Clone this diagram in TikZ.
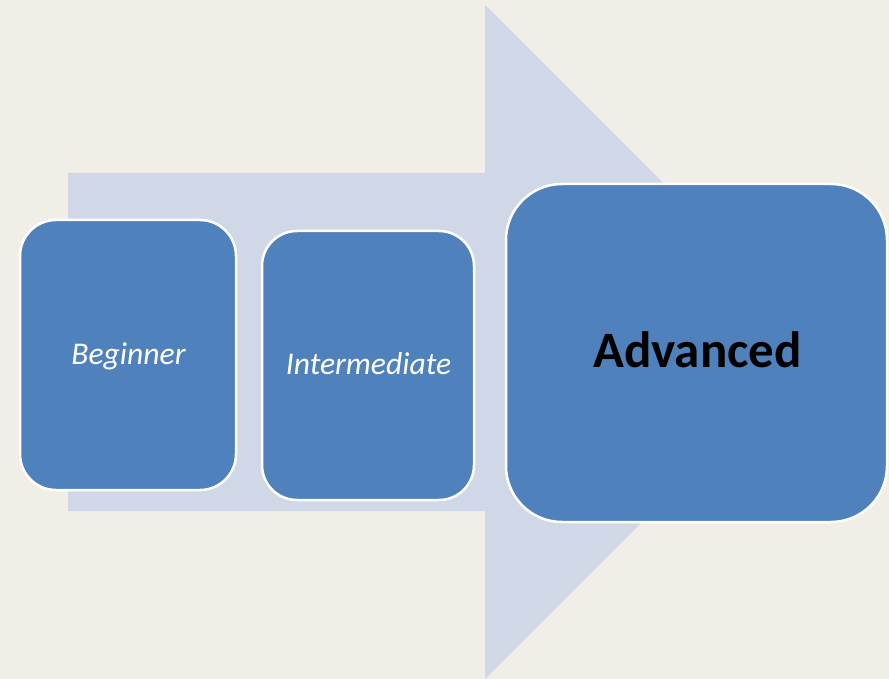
\documentclass[tikz,border=0pt]{standalone}
\usepackage{fontspec}
\setmainfont{Carlito}
\definecolor{bgbeige}{HTML}{F1EEE7}
\definecolor{arrowblue}{HTML}{D0D8E8}
\definecolor{boxblue}{HTML}{4F81BD}
\tikzset{
  stagebox/.style={draw=white, line width=2.5pt, fill=boxblue, rectangle, inner sep=0pt},
  smalllbl/.style={text=white, font=\fontsize{31.6}{36}\selectfont\itshape, inner sep=0pt, anchor=base},
  biglbl/.style={text=black, font=\fontsize{51}{58}\selectfont\bfseries, inner sep=0pt, anchor=base}
}
\begin{document}
\begin{tikzpicture}[x=1pt,y=-1pt]
\fill[bgbeige] (0,0) rectangle (889,679);
\useasboundingbox (0,0) rectangle (889,679);
% big background arrow
\fill[arrowblue] (68,173) -- (485,173) -- (485,5) -- (822,342) -- (485,679) -- (485,511) -- (68,511) -- cycle;
% stage boxes
\node[stagebox, minimum width=216pt, minimum height=270pt, rounded corners=36pt] (beg) at (128,355) {};
\node[stagebox, minimum width=212pt, minimum height=269pt, rounded corners=35pt] (mid) at (368,365.5) {};
\node[stagebox, minimum width=381pt, minimum height=338pt, rounded corners=56pt] (adv) at (696.5,353) {};
% labels
\node[smalllbl] (begt) at ([xshift=0.5pt,yshift=-9pt]beg.center) {Beginner};
\node[smalllbl] (midt) at ([xshift=0.5pt,yshift=-8.5pt]mid.center) {Intermediate};
\node[biglbl] (advt) at ([xshift=1pt,yshift=-14pt]adv.center) {Advanced};
\end{tikzpicture}
\end{document}
